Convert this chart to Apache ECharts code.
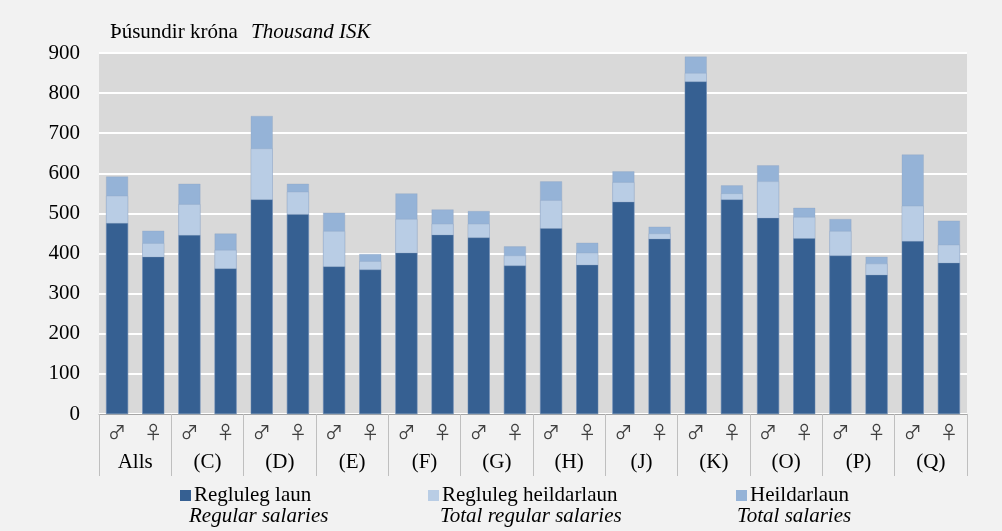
<!DOCTYPE html>
<html>
<head>
<meta charset="utf-8">
<script src="https://cdn.jsdelivr.net/npm/echarts@6.0.0/dist/echarts.min.js"></script>
<style>
  html, body { margin: 0; padding: 0; background: #f2f2f2; }
  #chart { width: 1002px; height: 531px; }
</style>
</head>
<body>
<div id="chart"></div>
<script>
// --- DATA ---
const groups = ['Alls', '(C)', '(D)', '(E)', '(F)', '(G)', '(H)', '(J)', '(K)', '(O)', '(P)', '(Q)'];
const genders = ['♂', '♀'];
const bars = groups.flatMap(() => genders);

// ♂, ♀ per group
const regular = [476, 392, 446, 363, 535, 498, 368, 360, 402, 447, 440, 370,
                 463, 372, 529, 437, 829, 535, 489, 438, 395, 347, 431, 377];
const totalRegular = [544, 426, 523, 409, 662, 554, 456, 381, 486, 474, 474, 395,
                      533, 402, 578, 450, 850, 550, 580, 491, 456, 375, 519, 422];
const total = [592, 457, 574, 450, 743, 574, 502, 399, 550, 510, 506, 418,
               580, 427, 605, 467, 891, 570, 620, 514, 486, 392, 647, 482];

const yTicks = { min: 0, max: 900, step: 100 };

const names = {
    reg: ['Regluleg laun', 'Regular salaries'],
    totReg: ['Regluleg heildarlaun', 'Total regular salaries'],
    tot: ['Heildarlaun', 'Total salaries']
};

// --- STYLE ---
const COLORS = { reg: '#366092', totReg: '#b9cde5', tot: '#95b3d7' };
const SERIF = '"Liberation Serif", "Times New Roman", serif';
const FS = 21;

const chart = echarts.init(document.getElementById('chart'));

const barSeries = (name, data, color) => ({
    name: name,
    type: 'bar',
    data: data,
    barWidth: 22,
    barGap: '-100%',
    itemStyle: { color: color, borderColor: 'rgba(140,160,190,0.6)', borderWidth: 0.5 },
    emphasis: { disabled: true }
});

const legendAt = (name, left) => ({
    data: [name],
    left: left,
    top: 480,
    icon: 'rect',
    itemWidth: 11,
    itemHeight: 11,
    itemGap: 0,
    itemStyle: { borderWidth: 0 },
    textStyle: { fontFamily: SERIF, fontSize: FS, color: '#000', padding: [0, 0, 0, -2] },
    selectedMode: false
});

const option = {
    backgroundColor: '#f2f2f2',
    animation: false,
    grid: { left: 99, right: 35, top: 53, bottom: 117, show: true, backgroundColor: '#d9d9d9', borderWidth: 0 },
    legend: [
        legendAt(names.reg[0], 175),
        legendAt(names.totReg[0], 423),
        legendAt(names.tot[0], 731)
    ],
    xAxis: [{
        type: 'category',
        data: bars,
        axisLine: { lineStyle: { color: '#a6a6a6', width: 1 } },
        axisTick: { show: false },
        axisLabel: { interval: 0, margin: 9, fontFamily: '"Noto Sans CJK SC", "DejaVu Sans", sans-serif', fontSize: 18, color: '#404040' }
    }, {
        type: 'category',
        data: groups,
        position: 'bottom',
        axisLine: { show: false },
        axisTick: { show: true, length: 62, interval: 0, lineStyle: { color: '#bfbfbf', width: 1 } },
        axisLabel: { interval: 0, margin: 38, fontFamily: SERIF, fontSize: FS, color: '#000' }
    }],
    yAxis: {
        type: 'value',
        min: yTicks.min,
        max: yTicks.max,
        interval: yTicks.step,
        axisLine: { show: false },
        axisTick: { show: false },
        splitLine: { lineStyle: { color: '#ffffff', width: 2 } },
        axisLabel: { margin: 19, fontFamily: SERIF, fontSize: FS, color: '#000' }
    },
    series: [
        barSeries(names.tot[0], total, COLORS.tot),
        barSeries(names.totReg[0], totalRegular, COLORS.totReg),
        barSeries(names.reg[0], regular, COLORS.reg)
    ],
    graphic: [
        { type: 'text', left: 110, top: 22, style: { text: 'Þúsundir króna', font: FS + 'px ' + SERIF, fill: '#000' } },
        { type: 'text', left: 251, top: 22, style: { text: 'Thousand ISK', font: 'italic ' + FS + 'px ' + SERIF, fill: '#000' } },
        { type: 'text', left: 189, top: 506, style: { text: names.reg[1], font: 'italic ' + FS + 'px ' + SERIF, fill: '#000' } },
        { type: 'text', left: 440, top: 506, style: { text: names.totReg[1], font: 'italic ' + FS + 'px ' + SERIF, fill: '#000' } },
        { type: 'text', left: 737, top: 506, style: { text: names.tot[1], font: 'italic ' + FS + 'px ' + SERIF, fill: '#000' } }
    ]
};

chart.setOption(option);
</script>
</body>
</html>
